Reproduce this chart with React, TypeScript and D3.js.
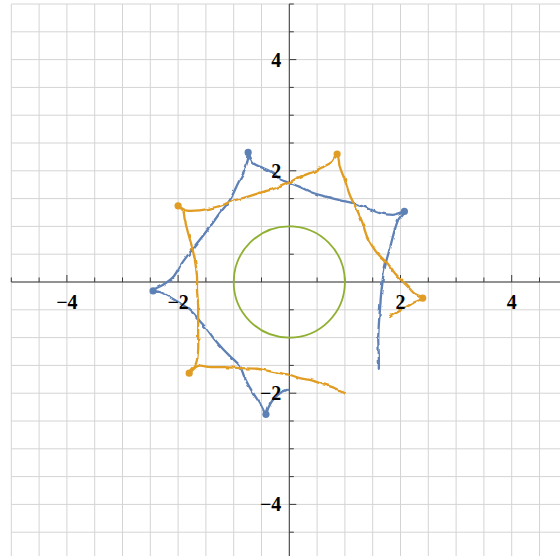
import React from "react";
import * as d3 from "d3";

// Blue trajectory, traced point by point (x, y in plot units)
const blueX = [-0.04, -0.17, -0.31, -0.38, -0.42, -0.53, -0.65, -0.80, -0.89, -1.03, -1.19, -1.34, -1.48, -1.61, -1.73, -1.86, -1.97, -2.15, -2.33, -2.47, -2.27, -2.09, -1.93, -1.75, -1.61, -1.43, -1.25, -1.07, -0.92, -0.80, -0.74, -0.74, -0.65, -0.47, -0.29, -0.17, 0.01, 0.19, 0.43, 0.68, 0.91, 1.15, 1.40, 1.63, 1.87, 2.06, 1.96, 1.88, 1.81, 1.74, 1.69, 1.65, 1.63, 1.61, 1.60, 1.61, 1.61];
const blueY = [-1.94, -2.00, -2.14, -2.27, -2.37, -2.18, -2.00, -1.73, -1.51, -1.37, -1.21, -1.04, -0.85, -0.70, -0.56, -0.45, -0.38, -0.27, -0.18, -0.16, -0.05, 0.09, 0.34, 0.58, 0.76, 0.99, 1.24, 1.47, 1.78, 2.01, 2.23, 2.34, 2.14, 2.05, 1.96, 1.85, 1.78, 1.71, 1.60, 1.53, 1.47, 1.42, 1.33, 1.24, 1.21, 1.26, 1.12, 0.88, 0.61, 0.36, 0.11, -0.23, -0.50, -0.77, -1.04, -1.31, -1.56];

// Orange trajectory
const orangeX = [1.00, 0.82, 0.55, 0.37, 0.19, 0.01, -0.17, -0.38, -0.58, -0.89, -1.16, -1.43, -1.64, -1.80, -1.68, -1.64, -1.64, -1.64, -1.64, -1.66, -1.66, -1.70, -1.75, -1.82, -1.88, -1.91, -2.00, -1.86, -1.61, -1.30, -1.01, -0.76, -0.47, -0.22, 0.01, 0.19, 0.43, 0.61, 0.77, 0.86, 0.91, 1.00, 1.09, 1.22, 1.31, 1.40, 1.49, 1.58, 1.76, 1.94, 2.12, 2.24, 2.40, 2.22, 2.04, 1.83];
const orangeY = [-2.00, -1.91, -1.82, -1.76, -1.73, -1.67, -1.64, -1.60, -1.56, -1.55, -1.53, -1.53, -1.51, -1.64, -1.47, -1.22, -0.95, -0.68, -0.41, -0.14, 0.09, 0.40, 0.63, 0.88, 1.12, 1.28, 1.37, 1.29, 1.29, 1.35, 1.46, 1.53, 1.62, 1.69, 1.80, 1.89, 1.98, 2.07, 2.16, 2.30, 2.07, 1.83, 1.56, 1.29, 1.08, 0.81, 0.65, 0.52, 0.34, 0.11, -0.07, -0.20, -0.29, -0.38, -0.49, -0.61];

// Turning points where the trajectories knot up
const blueCuspX = [-0.74, 2.07, -2.45, -0.42];
const blueCuspY = [2.33, 1.27, -0.16, -2.38];
const orangeCuspX = [-2.0, 0.86, 2.40, -1.80];
const orangeCuspY = [1.37, 2.30, -0.29, -1.64];

// Unit circle radius
const circleRadius = [1];

const tickLabels = [-4, -2, 2, 4];

const W = 560;
const H = 556;

const x = d3.scaleLinear().domain([-5, 5]).range([11.3, 567.3]);
const y = d3.scaleLinear().domain([-5, 5]).range([560, 4]);

const BLUE = "#5E81B5";
const ORANGE = "#E19C24";
const GREEN = "#8FB032";

const zip = (xs: number[], ys: number[]) => xs.map((v, i) => [v, ys[i]] as [number, number]);

const line = d3
  .line<[number, number]>()
  .x((d) => x(d[0]))
  .y((d) => y(d[1]))
  .curve(d3.curveCatmullRom.alpha(0.5));

const fmt = (v: number) => (v < 0 ? "\u2212" + Math.abs(v) : String(v));

export default function App() {
  const grid = d3.range(-5, 5.001, 0.5);
  const minor = d3.range(-5, 5.001, 0.5).filter((v) => Math.abs(v) > 1e-9);
  const isMajor = (v: number) => Math.abs(v % 2) < 1e-9;
  const cx = x(0);
  const cy = y(0);

  return (
    <svg
      width={W}
      height={H}
      style={{ position: "absolute", left: 0, top: 0, background: "#fff" }}
      fontFamily="'Liberation Serif', 'Times New Roman', serif"
    >
      <defs>
        <filter id="wiggle" x="-10%" y="-10%" width="120%" height="120%">
          <feTurbulence type="fractalNoise" baseFrequency="0.16" numOctaves="1" seed="4" result="noise" />
          <feDisplacementMap in="SourceGraphic" in2="noise" scale="3.4" xChannelSelector="R" yChannelSelector="G" />
        </filter>
      </defs>
      <rect width={W} height={H} fill="#fff" />

      {/* grid */}
      <g stroke="#d4d4d4" strokeWidth={1}>
        {grid.map((v) => (
          <line key={"gx" + v} x1={x(v)} x2={x(v)} y1={y(5)} y2={y(-5)} />
        ))}
        {grid.map((v) => (
          <line key={"gy" + v} x1={x(-5)} x2={x(5)} y1={y(v)} y2={y(v)} />
        ))}
      </g>

      {/* axes */}
      <g stroke="#3a3a3a" strokeWidth={1}>
        <line x1={x(-5)} x2={x(5)} y1={cy} y2={cy} />
        <line x1={cx} x2={cx} y1={y(5)} y2={y(-5)} />
        {minor.map((v) => (
          <line key={"tx" + v} x1={x(v)} x2={x(v)} y1={cy} y2={cy - (isMajor(v) ? 7 : 4.5)} />
        ))}
        {minor.map((v) => (
          <line key={"ty" + v} x1={cx} x2={cx + (isMajor(v) ? 7 : 4.5)} y1={y(v)} y2={y(v)} />
        ))}
      </g>

      {/* curves */}
      <g fill="none" strokeWidth={2.3} strokeLinejoin="round" strokeLinecap="round">
        <path d={line(zip(blueX, blueY)) || ""} stroke={BLUE} filter="url(#wiggle)" />
        <path d={line(zip(orangeX, orangeY)) || ""} stroke={ORANGE} filter="url(#wiggle)" />
      </g>
      <g>
        {zip(blueCuspX, blueCuspY).map((p, i) => (
          <circle key={"bc" + i} cx={x(p[0])} cy={y(p[1])} r={3.6} fill={BLUE} />
        ))}
        {zip(orangeCuspX, orangeCuspY).map((p, i) => (
          <circle key={"oc" + i} cx={x(p[0])} cy={y(p[1])} r={3.6} fill={ORANGE} />
        ))}
      </g>
      <circle
        cx={cx}
        cy={cy}
        r={x(circleRadius[0]) - x(0)}
        fill="none"
        stroke={GREEN}
        strokeWidth={1.8}
      />

      {/* tick labels */}
      <g fontWeight="bold" fontSize={20} fill="#000">
        {tickLabels.map((v) => (
          <text key={"lx" + v} x={x(v)} y={cy + 27} textAnchor="middle">
            {fmt(v)}
          </text>
        ))}
        {tickLabels.map((v) => (
          <text key={"ly" + v} x={cx - 8} y={y(v) + 7} textAnchor="end">
            {fmt(v)}
          </text>
        ))}
      </g>
    </svg>
  );
}
